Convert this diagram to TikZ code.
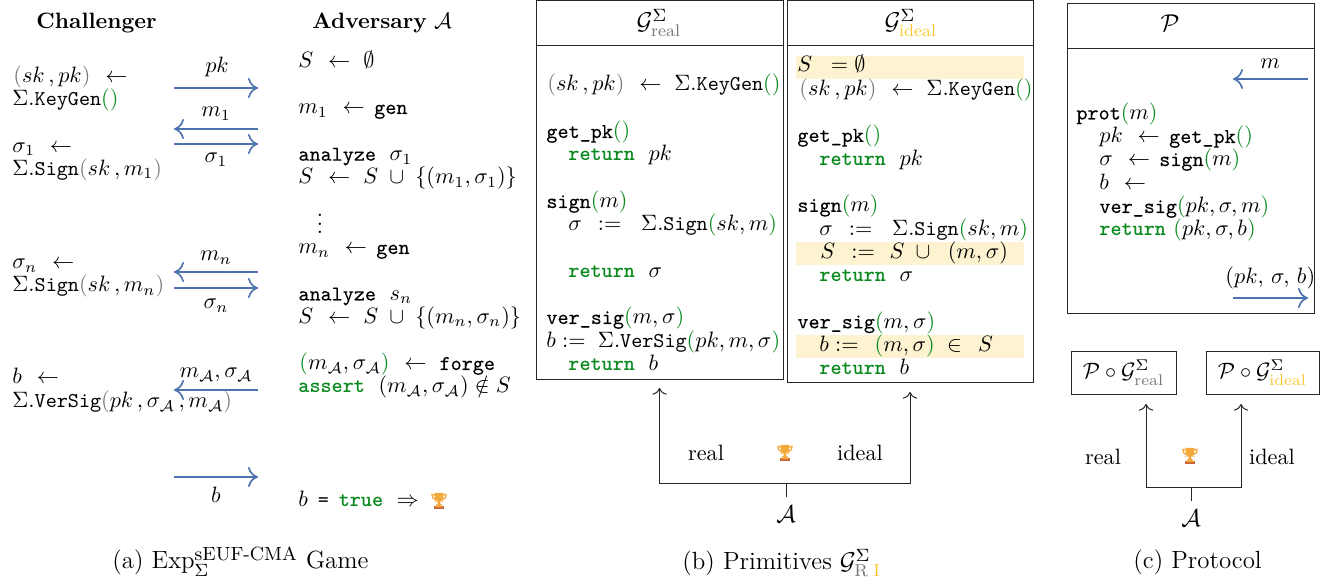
\documentclass[tikz,border=0pt]{standalone}
\usepackage{amsmath}
\usepackage{fontspec}
\newfontfamily\emojifont{Noto Emoji}
\newfontfamily\ttsemi[FakeBold=0.12]{lmmono10-regular.otf}
\usetikzlibrary{arrows.meta}
\definecolor{kwgreen}{HTML}{0A8A1E}
\definecolor{pgray}{HTML}{777777}
\definecolor{idealc}{HTML}{F9C82E}
\definecolor{hl}{HTML}{FDF3D0}
\definecolor{msgblue}{HTML}{4C72B0}
\definecolor{troph}{HTML}{F4A93A}
\definecolor{trophb}{HTML}{C8643C}
\newcommand\cf[1]{{\fontsize{9.5}{11}\selectfont\ttfamily #1}}
\newcommand\fn[1]{{\ttsemi\fontsize{9.5}{11}\selectfont #1}}
\newcommand\kwd[1]{\textcolor{kwgreen}{\fontsize{9.5}{11}\selectfont\ttfamily\bfseries #1}}
\newcommand\gl{\textcolor{kwgreen}{(}}
\newcommand\gr{\textcolor{kwgreen}{)}}
\newcommand\gyl{\textcolor{pgray}{(}}
\newcommand\gyr{\textcolor{pgray}{)}}
\newcommand\cfreal{\textcolor{pgray}{\text{real}}}
\newcommand\cfideal{\textcolor{idealc}{\text{ideal}}}
\newcommand\am{\mathcal{A}}
\newcommand\ar{\mskip7mu\leftarrow\mskip5.5mu}
\newcommand\df{\mskip13mu{:=}\mskip16mu}
\newcommand\dfs{\mskip13mu{:=}\mskip12mu}
% trophy: coloured cup under the emoji glyph
\newcommand\trophyat[3]{%
  \begin{scope}[shift={(#2,#3)}]
    \fill[troph] (-4.5,-8) -- (4.5,-8) -- (3.8,-2) .. controls (3,1) and (-3,1) .. (-3.8,-2) -- cycle;
    \draw[troph,line width=0.6pt] (-4.5,-6.5) -- (-7,-6.5) .. controls (-7,-3) and (-5,-2) .. (-3.5,-1.5);
    \draw[troph,line width=0.6pt] (4.5,-6.5) -- (7,-6.5) .. controls (7,-3) and (5,-2) .. (3.5,-1.5);
    \fill[troph] (-1.2,0) rectangle (1.2,5);
    \fill[trophb] (-5,5) rectangle (5,8.5);
    \node[trophynode] (#1) at (0,0) {{\emojifont\textcolor{troph}{🏆}}};
  \end{scope}}
\tikzset{
  cl/.style={anchor=base west,inner sep=0pt,font=\fontsize{10}{12}\selectfont},
  cc/.style={anchor=base,inner sep=0pt,font=\fontsize{10}{12}\selectfont},
  ttl/.style={anchor=base,inner sep=0pt,font=\fontsize{10.9}{12}\selectfont},
  capt/.style={anchor=base west,inner sep=0pt,font=\fontsize{11.2}{12}\selectfont},
  msg/.style={draw=msgblue,line width=0.75pt,-{Computer Modern Rightarrow[length=4.5pt,width=9pt]}},
  blk/.style={draw=black!85,line width=0.45pt},
  blkar/.style={blk,-{Computer Modern Rightarrow[length=3pt,width=6.5pt]}},
  gbox/.style={draw=black!85,line width=0.45pt,anchor=north west,inner sep=0pt,outer sep=0pt},
  hlbar/.style={fill=hl,draw=none,anchor=north west,inner sep=0pt,minimum width=228*0.45pt,minimum height=23*0.45pt},
  trophynode/.style={anchor=center,inner sep=0pt,font=\fontsize{6}{8}\selectfont}
}
\begin{document}
\begin{tikzpicture}[x=0.45pt,y=-0.45pt]
\useasboundingbox (0,0) rectangle (1330,585);
% ---------- (a) game ----------
\node[cl,font=\fontsize{10}{12}\selectfont\bfseries] (hchal) at (36,29) {Challenger};
\node[cl,font=\fontsize{10}{12}\selectfont] (hadv) at (312,29) {\textbf{Adversary} $\am$};
\node[cl] (c1) at (13,83) {$\gyl sk\,,pk\gyr\ar$};
\node[cl] (c2) at (12,106) {$\Sigma$.\cf{KeyGen}\gl\gr};
\node[cl] (c3) at (12,152.5) {$\sigma_1\ar$};
\node[cl] (c4) at (12,175.5) {$\Sigma$.\cf{Sign}$\gyl sk\,,m_1\gyr$};
\node[cl] (c5) at (12,269) {$\sigma_n\ar$};
\node[cl] (c6) at (12,292) {$\Sigma$.\cf{Sign}$\gyl sk\,,m_n\gyr$};
\node[cl] (c7) at (12,384) {$b\ar$};
\node[cl] (c8) at (12,408) {$\Sigma$.\cf{VerSig}$\gyl pk\,,\sigma_{\am}\,,m_{\am}\gyr$};
\node[cl] (d1) at (298,67.5) {$S\ar\emptyset$};
\node[cl] (d2) at (298,114) {$m_1\ar\mskip2mu$\fn{gen}};
\node[cl] (d3) at (298,160.7) {\fn{analyze} $\;\sigma_1$};
\node[cl] (d4) at (298,184) {$S\ar S\;\cup\;\{(m_1,\sigma_1)\}$};
\node[cc] (d5) at (320,234) {$\vdots$};
\node[cl] (d6) at (298,254) {$m_n\ar\mskip2mu$\fn{gen}};
\node[cl] (d7) at (298,300.5) {\fn{analyze} $\;s_n$};
\node[cl] (d8) at (298,323.5) {$S\ar S\;\cup\;\{(m_n,\sigma_n)\}$};
\node[cl] (d9) at (299,370) {$\gl m_{\am},\sigma_{\am}\gr\ar\;$\fn{forge}};
\node[cl] (d10) at (298,393) {\kwd{assert} $\;(m_{\am},\sigma_{\am})\notin S$};
\node[cl] (d11) at (298,507) {$b\mskip8mu$\cf{=}$\mskip8mu$\kwd{true} $\;\Rightarrow$};
\trophyat{td}{439}{501}
\foreach \n/\y in {1/88,2/129,3/144,4/272,5/288,6/390,7/477}{
  \coordinate (ml\n) at (174,\y);
  \coordinate (mr\n) at (258,\y);
}
\draw[msg] (ml1) -- (mr1);
\draw[msg] (mr2) -- (ml2);
\draw[msg] (ml3) -- (mr3);
\draw[msg] (mr4) -- (ml4);
\draw[msg] (ml5) -- (mr5);
\draw[msg] (mr6) -- (ml6);
\draw[msg] (ml7) -- (mr7);
\node[cc] (l1) at (217,73) {$pk$};
\node[cc] (l2) at (216,117) {$m_1$};
\node[cc] (l3) at (216,163) {$\sigma_1$};
\node[cc] (l4) at (216,261) {$m_n$};
\node[cc] (l5) at (216,309) {$\sigma_n$};
\node[cc] (l6) at (216,378) {$m_{\am},\sigma_{\am}$};
\node[cc] (l7) at (216,503) {$b$};
\node[capt] (capa) at (112,569) {(a) Exp$^{\hbox{\fontsize{8.6}{9}\selectfont sEUF-CMA}}_{\Sigma}$ Game};
% ---------- (b) primitives ----------
\node[gbox,minimum width=247*0.45pt,minimum height=379*0.45pt] (greal) at (536,1) {};
\node[gbox,minimum width=246*0.45pt,minimum height=382*0.45pt] (gideal) at (787,1) {};
\coordinate (grl) at (536,46); \coordinate (grr) at (783,46);
\coordinate (gil) at (787,46); \coordinate (gir) at (1033,46);
\draw[blk] (grl) -- (grr);
\draw[blk] (gil) -- (gir);
\node[ttl] (tg1) at (659,30) {$\mathcal{G}^{\Sigma}_{\cfreal}$};
\node[ttl] (tg2) at (911,30) {$\mathcal{G}^{\Sigma}_{\cfideal}$};
\node[hlbar] (h1) at (796,56) {};
\node[hlbar] (h2) at (796,241.5) {};
\node[hlbar] (h3) at (796,334.5) {};
\node[cl] (r1) at (547,91) {$\gyl sk\,,pk\gyr\ar\Sigma$.\cf{KeyGen}\gl\gr};
\node[cl] (r2) at (546,138) {\fn{get\_pk}\gl\gr};
\node[cl] (r3) at (568,161) {\kwd{return} $\;pk$};
\node[cl] (r4) at (546,208) {\fn{sign}$\gl m\gr$};
\node[cl] (r5) at (568,231) {$\sigma\df\Sigma$.\cf{Sign}$\gl sk,m\gr$};
\node[cl] (r6) at (568,277.5) {\kwd{return} $\;\sigma$};
\node[cl] (r7) at (546,324) {\fn{ver\_sig}$\gl m,\sigma\gr$};
\node[cl] (r8) at (546,347.5) {$b:=\;\Sigma$.\cf{VerSig}$\gl pk,m,\sigma\gr$};
\node[cl] (r9) at (568,370.5) {\kwd{return} $\;b$};
\node[cl] (i0) at (797,72) {$S\;\;=\emptyset$};
\node[cl] (i1) at (799,95.3) {$\gyl sk\,,pk\gyr\ar\Sigma$.\cf{KeyGen}\gl\gr};
\node[cl] (i2) at (797,141.9) {\fn{get\_pk}\gl\gr};
\node[cl] (i3) at (819,165.2) {\kwd{return} $\;pk$};
\node[cl] (i4) at (797,211.8) {\fn{sign}$\gl m\gr$};
\node[cl] (i5) at (819,235.1) {$\sigma\df\Sigma$.\cf{Sign}$\gl sk,m\gr$};
\node[cl] (i6) at (820,258.4) {$S\dfs S\;\cup\;\;(m,\sigma)$};
\node[cl] (i7) at (819,281.7) {\kwd{return} $\;\sigma$};
\node[cl] (i8) at (797,328.3) {\fn{ver\_sig}$\gl m,\sigma\gr$};
\node[cl] (i9) at (819,351.6) {$b:=\;\,\gl m,\sigma\gr\;\in\;\,S$};
\node[cl] (i10) at (819,374.9) {\kwd{return} $\;b$};
\node[ttl,inner sep=4pt] (advb) at (786,523) {$\am$};
\coordinate (jb) at (786,484);
\coordinate (tipbl) at (659.5,388);
\coordinate (tipbr) at (910,392);
\draw[blk] (advb.north) -- (jb);
\draw[blkar] (jb) -| (tipbl);
\draw[blkar] (jb) -| (tipbr);
\node[cc] (rlb) at (706,461) {real};
\node[cc] (ilb) at (860,461) {ideal};
\trophyat{tb}{785}{453}
\node[capt] (capb) at (682,570) {(b) Primitives $\mathcal{G}^{\Sigma}_{\textcolor{pgray}{\mathrm{R}}\;\textcolor{idealc}{\mathrm{I}}}$};
% ---------- (c) protocol ----------
\node[gbox,minimum width=247*0.45pt,minimum height=310*0.45pt] (pbox) at (1067,4) {};
\coordinate (pl) at (1067,49); \coordinate (pr) at (1314,49);
\draw[blk] (pl) -- (pr);
\node[ttl] (tp) at (1170,32) {$\mathcal{P}$};
\coordinate (pm1) at (1308,79); \coordinate (pm2) at (1233,79);
\coordinate (pm3) at (1233,298); \coordinate (pm4) at (1308,298);
\draw[msg] (pm1) -- (pm2);
\draw[msg] (pm3) -- (pm4);
\node[cc] (lm) at (1270,69) {$m$};
\node[cl] (lret) at (1225,284) {$(pk,\,\sigma,\,b)$};
\node[cl] (p1) at (1076,119.5) {\fn{prot}$\gl m\gr$};
\node[cl] (p2) at (1099,143) {$pk\ar\mskip2mu$\fn{get\_pk}\gl\gr};
\node[cl] (p3) at (1099,166) {$\sigma\ar\mskip2mu$\fn{sign}$\gl m\gr$};
\node[cl] (p4) at (1099,189.5) {$b\ar$};
\node[cl] (p5) at (1099,213) {\fn{ver\_sig}$\gl pk,\sigma,m\gr$};
\node[cl] (p6) at (1099,236) {\kwd{return} $\gl pk,\sigma,b\gr$};
\node[gbox,minimum width=105*0.45pt,minimum height=43*0.45pt] (pr1) at (1071,352) {};
\node[gbox,minimum width=113*0.45pt,minimum height=43*0.45pt] (pr2) at (1206,352) {};
\node[cc] (tpr1) at (1123.5,379) {$\mathcal{P}\circ\mathcal{G}^{\Sigma}_{\cfreal}$};
\node[cc] (tpr2) at (1262.5,379) {$\mathcal{P}\circ\mathcal{G}^{\Sigma}_{\cfideal}$};
\node[ttl,inner sep=4pt] (advc) at (1191,527) {$\am$};
\coordinate (jc) at (1191,488);
\coordinate (tipcl) at (1146,404);
\coordinate (tipcr) at (1241,404);
\draw[blk] (advc.north) -- (jc);
\draw[blkar] (jc) -| (tipcl);
\draw[blkar] (jc) -| (tipcr);
\node[cc] (rlc) at (1103,464.5) {real};
\node[cc] (ilc) at (1272,464.5) {ideal};
\trophyat{tc}{1190}{456}
\node[capt] (capc) at (1133,569) {(c) Protocol};
\end{tikzpicture}
\end{document}
